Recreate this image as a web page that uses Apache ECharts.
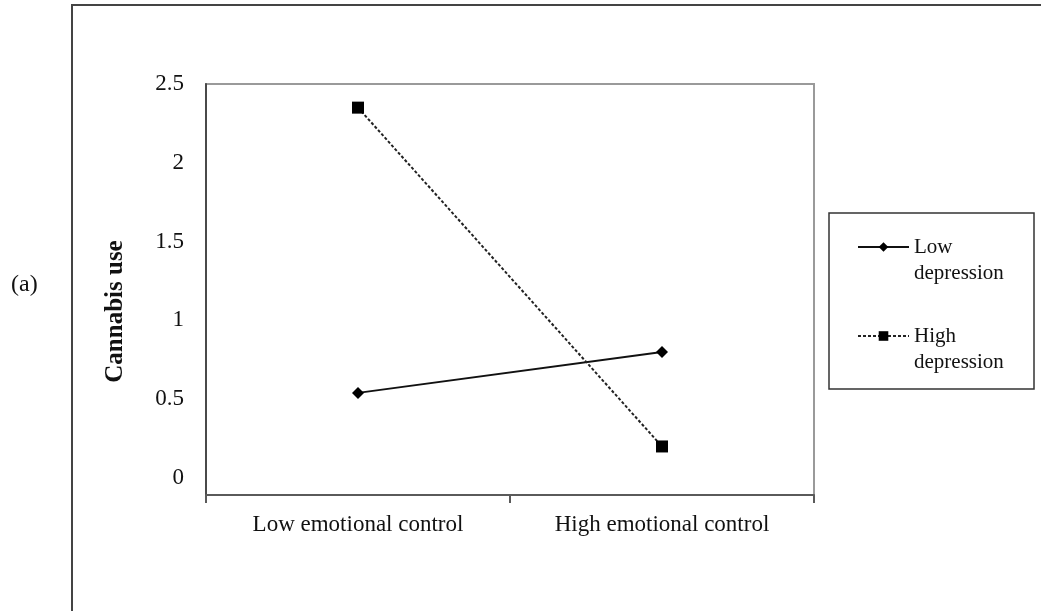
<!DOCTYPE html>
<html>
<head>
<meta charset="utf-8">
<script src="https://cdn.jsdelivr.net/npm/echarts@6/dist/echarts.min.js"></script>
<style>
  html, body { margin: 0; padding: 0; background: #fff; }
  #chart { width: 1041px; height: 611px; }
</style>
</head>
<body>
<div id="chart"></div>
<script>
// data
const categories = ["Low emotional control", "High emotional control"];
const lowDepression = [0.54, 0.80];
const highDepression = [2.35, 0.20];
const yTickValues = [0, 0.5, 1, 1.5, 2, 2.5];
const seriesNames = ["Low\ndepression", "High\ndepression"];

const serif = "'Liberation Serif', 'DejaVu Serif', serif";
const chart = echarts.init(document.getElementById("chart"));

const option = {
  animation: false,
  backgroundColor: "#fff",
  textStyle: { fontFamily: serif, color: "#111" },
  grid: {
    left: 206, right: 227, top: 84, bottom: 116,
    show: true, borderColor: "#9a9a9a", borderWidth: 2
  },
  legend: {
    left: 852, top: 203,
    orient: "vertical",
    itemWidth: 51, itemHeight: 12, itemGap: 11,
    // empty first line so the icon sits beside the first real line
    formatter: (name) => "\n" + name,
    textStyle: { fontFamily: serif, fontSize: 21, color: "#111", lineHeight: 26 },
    data: seriesNames
  },
  xAxis: {
    type: "category",
    data: categories,
    boundaryGap: true,
    axisLine: { onZero: false, lineStyle: { color: "#5a5a5a", width: 2 } },
    axisTick: { show: true, length: 8, lineStyle: { color: "#5a5a5a", width: 2 } },
    axisLabel: { fontFamily: serif, fontSize: 23, color: "#111", margin: 18 }
  },
  yAxis: {
    type: "value",
    min: -0.108,
    max: 2.5,
    name: "Cannabis use",
    nameLocation: "middle",
    nameRotate: 90,
    nameGap: 78,
    nameTextStyle: { fontFamily: serif, fontSize: 25, fontWeight: "bold", color: "#111", padding: [0, 44, 0, 0] },
    axisLine: { show: true, lineStyle: { color: "#4a4a4a", width: 2 } },
    axisTick: { show: false },
    splitLine: { show: false },
    axisLabel: { customValues: yTickValues, fontFamily: serif, fontSize: 23, color: "#111", margin: 22 }
  },
  series: [
    {
      name: seriesNames[0],
      type: "line",
      data: lowDepression,
      symbol: "diamond",
      symbolSize: 12,
      color: "#000",
      lineStyle: { color: "#111", width: 2, type: "solid" },
      itemStyle: { color: "#000" }
    },
    {
      name: seriesNames[1],
      type: "line",
      data: highDepression,
      symbol: "rect",
      symbolSize: 12,
      color: "#000",
      lineStyle: { color: "#222", width: 2, type: [3, 2] },
      itemStyle: { color: "#000" }
    }
  ],
  graphic: [
    {
      type: "rect", silent: true, z: -1,
      shape: { x: 72, y: 5, width: 1100, height: 700 },
      style: { fill: "none", stroke: "#444", lineWidth: 2 }
    },
    {
      type: "rect", silent: true,
      shape: { x: 829, y: 213, width: 205, height: 176 },
      style: { fill: "none", stroke: "#333", lineWidth: 1.5 }
    },
    {
      type: "text", left: 11, top: 273,
      style: { text: "(a)", font: "24px " + serif, fill: "#111" }
    }
  ]
};

chart.setOption(option);
</script>
</body>
</html>
